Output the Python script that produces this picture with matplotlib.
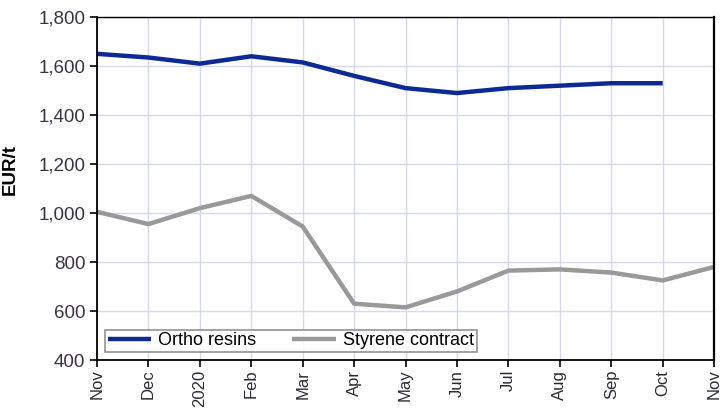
import matplotlib
matplotlib.use('Agg')
import matplotlib.pyplot as plt

months = ['Nov', 'Dec', '2020', 'Feb', 'Mar', 'Apr', 'May', 'Jun',
          'Jul', 'Aug', 'Sep', 'Oct', 'Nov']
ortho = [1650, 1635, 1610, 1640, 1615, 1560, 1510, 1490, 1510, 1520, 1530, 1530]
styrene = [1005, 955, 1020, 1070, 945, 630, 615, 680, 765, 770, 757, 725, 780]

plt.rcParams['font.family'] = ['Liberation Sans', 'DejaVu Sans']

fig = plt.figure(figsize=(7.21, 4.08), dpi=100)
ax = fig.add_axes([0.1345, 0.1176, 0.856, 0.8405])

x_all = list(range(len(months)))
ax.plot(x_all[:len(ortho)], ortho, color='#0d2a94', linewidth=3.2,
        label='Ortho resins', solid_capstyle='butt')
ax.plot(x_all, styrene, color='#999999', linewidth=3.2,
        label='Styrene contract', solid_capstyle='butt')

ax.set_xlim(0, len(months) - 1)
ax.set_ylim(400, 1800)
ax.set_xticks(x_all)
ax.set_xticklabels(months, rotation=90, fontsize=12, color='#2a2a33')
ax.set_yticks(range(400, 1801, 200))
ax.set_yticklabels([f'{v:,}' for v in range(400, 1801, 200)],
                   fontsize=13.5, color='#3a3344')
ax.tick_params(axis='both', direction='out', length=5, width=1.2, color='black')
ax.tick_params(axis='x', pad=2)
ax.grid(True, color='#d6d8ee', linewidth=1)
ax.set_axisbelow(True)
for s in ['left', 'bottom']:
    ax.spines[s].set_linewidth(1.3)
ax.spines['top'].set_linewidth(1.0)
ax.spines['right'].set_linewidth(1.6)

ax.set_ylabel('EUR/t', fontsize=13.5, fontweight='bold')
ax.yaxis.set_label_coords(-0.126, 0.555)

leg = ax.legend(loc='lower left', ncol=2, fontsize=13, frameon=True,
                fancybox=False, edgecolor='#777777', handlelength=2.4,
                columnspacing=2.0, borderpad=0.15, handletextpad=0.4,
                borderaxespad=0, bbox_to_anchor=(0.013, 0.023))
leg.get_frame().set_linewidth(1.2)

fig.savefig('out.png', dpi=100)
